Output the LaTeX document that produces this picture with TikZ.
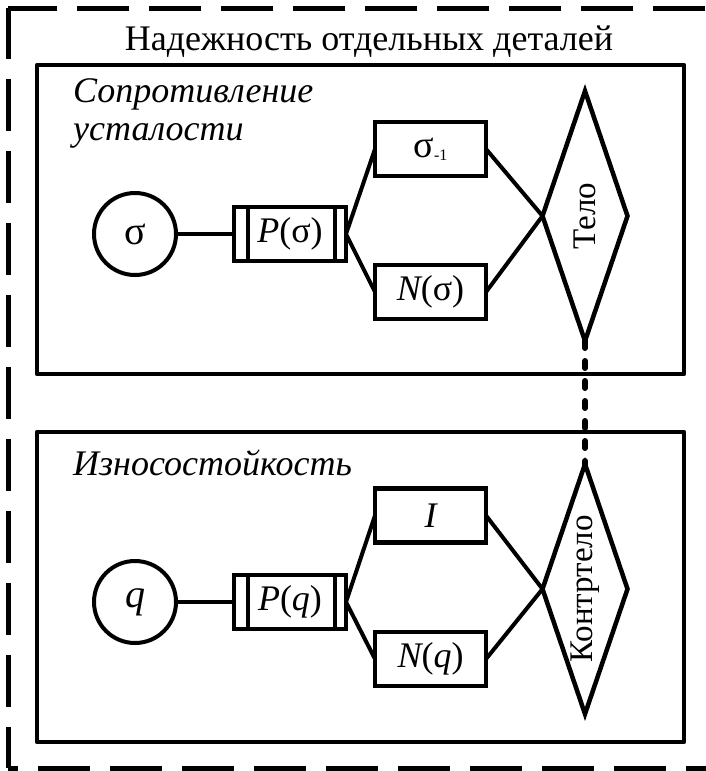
\documentclass[tikz,border=0pt]{standalone}
\usepackage{fontspec}
\setmainfont{Liberation Serif}
\usepackage{graphicx}
\usetikzlibrary{shapes.geometric}
\tikzset{
  frame/.style={line width=4.5pt, line join=round},
  outer/.style={line width=5pt, dash pattern=on 52pt off 20pt},
  smallbox/.style={draw, line width=4.5pt, minimum width=111pt, minimum height=54pt, inner sep=0pt, outer sep=0pt, font=\fontsize{36}{38}\selectfont},
  pbox/.style={draw, line width=4.5pt, minimum width=112pt, minimum height=54pt, inner sep=0pt, outer sep=0pt, font=\fontsize{36}{38}\selectfont},
  circ/.style={draw, circle, line width=4pt, minimum size=82pt, inner sep=0pt, outer sep=0pt, font=\fontsize{40}{42}\selectfont},
  dia/.style={draw, diamond, line width=4.5pt, line join=miter, minimum width=85pt, minimum height=250pt, inner sep=0pt, outer sep=0pt},
  dialabel/.style={rotate=90, font=\fontsize{33}{35}\selectfont, inner sep=0pt},
  conn/.style={line width=4pt},
  dotlink/.style={line width=6pt, line cap=round, dash pattern=on 7pt off 13pt},
  title/.style={font=\fontsize{36}{38}\selectfont, inner sep=0pt},
  ital/.style={font=\fontsize{36}{38}\selectfont\itshape, inner sep=0pt}
}
\begin{document}
\begin{tikzpicture}[x=1pt, y=-1pt]
\useasboundingbox (0,0) rectangle (705,771);
% outer dashed frame
\coordinate (otl) at (8,8);
\coordinate (otr) at (730,8);
\coordinate (obl) at (8,768);
\coordinate (obr) at (730,768);
\draw[outer, dash phase=3pt] (otl) -- (otr);
\draw[outer, dash phase=1pt] (otl) -- (obl);
\draw[outer, dash phase=42pt] (obl) -- (obr);
% title
\node[title, anchor=base] (ttl) at (369,50) {Надежность отдельных деталей};
% group boxes
\node[draw, frame, minimum width=647pt, minimum height=309pt, inner sep=0pt] (g1) at (360.5,219.5) {};
\node[draw, frame, minimum width=647pt, minimum height=310pt, inner sep=0pt] (g2) at (360.5,587) {};
\node[ital, anchor=base west] (l1a) at (73,102) {Сопротивление};
\node[ital, anchor=base west] (l1b) at (73,140) {усталости};
\node[ital, anchor=base west] (l2) at (73,475) {Износостойкость};
% upper group
\node[circ] (s) at (135,234) {σ};
\node[pbox] (ps) at (290,234) {{\itshape P}(σ)};
\draw[conn] ([xshift=13.5pt]ps.north west) -- ([xshift=13.5pt]ps.south west);
\draw[conn] ([xshift=-11pt]ps.north east) -- ([xshift=-11pt]ps.south east);
\node[smallbox] (sm) at (430.5,149) {\fontsize{38}{40}\selectfont σ\raisebox{-3pt}{\fontsize{16}{16}\selectfont -1}};
\node[smallbox] (ns) at (430.5,292) {{\itshape N}(σ)};
\node[dia] (telo) at (585,216) {};
\node[dialabel] (telot) at (telo.center) {Тело};
\draw[conn] (s) -- (ps);
\draw[conn] (ps.east) -- (sm.west);
\draw[conn] (ps.east) -- (ns.west);
\draw[conn] (sm.east) -- (telo.west);
\draw[conn] (ns.east) -- (telo.west);
% lower group
\node[circ] (q) at (135,602) {\itshape q};
\node[pbox] (pq) at (290,602) {{\itshape P}({\itshape q})};
\draw[conn] ([xshift=14pt]pq.north west) -- ([xshift=14pt]pq.south west);
\draw[conn] ([xshift=-11pt]pq.north east) -- ([xshift=-11pt]pq.south east);
\node[smallbox] (ii) at (430.5,515.5) {\itshape I};
\node[smallbox] (nq) at (430.5,659) {{\itshape N}({\itshape q})};
\node[dia] (kontr) at (585,589) {};
\node[dialabel] (kontrt) at (kontr.center) {Контртело};
\draw[conn] (q) -- (pq);
\draw[conn] (pq.east) -- (ii.west);
\draw[conn] (pq.east) -- (nq.west);
\draw[conn] (ii.east) -- (kontr.west);
\draw[conn] (nq.east) -- (kontr.west);
% link between diamonds
\draw[dotlink] (telo.south) -- (kontr.north);
\end{tikzpicture}
\end{document}
